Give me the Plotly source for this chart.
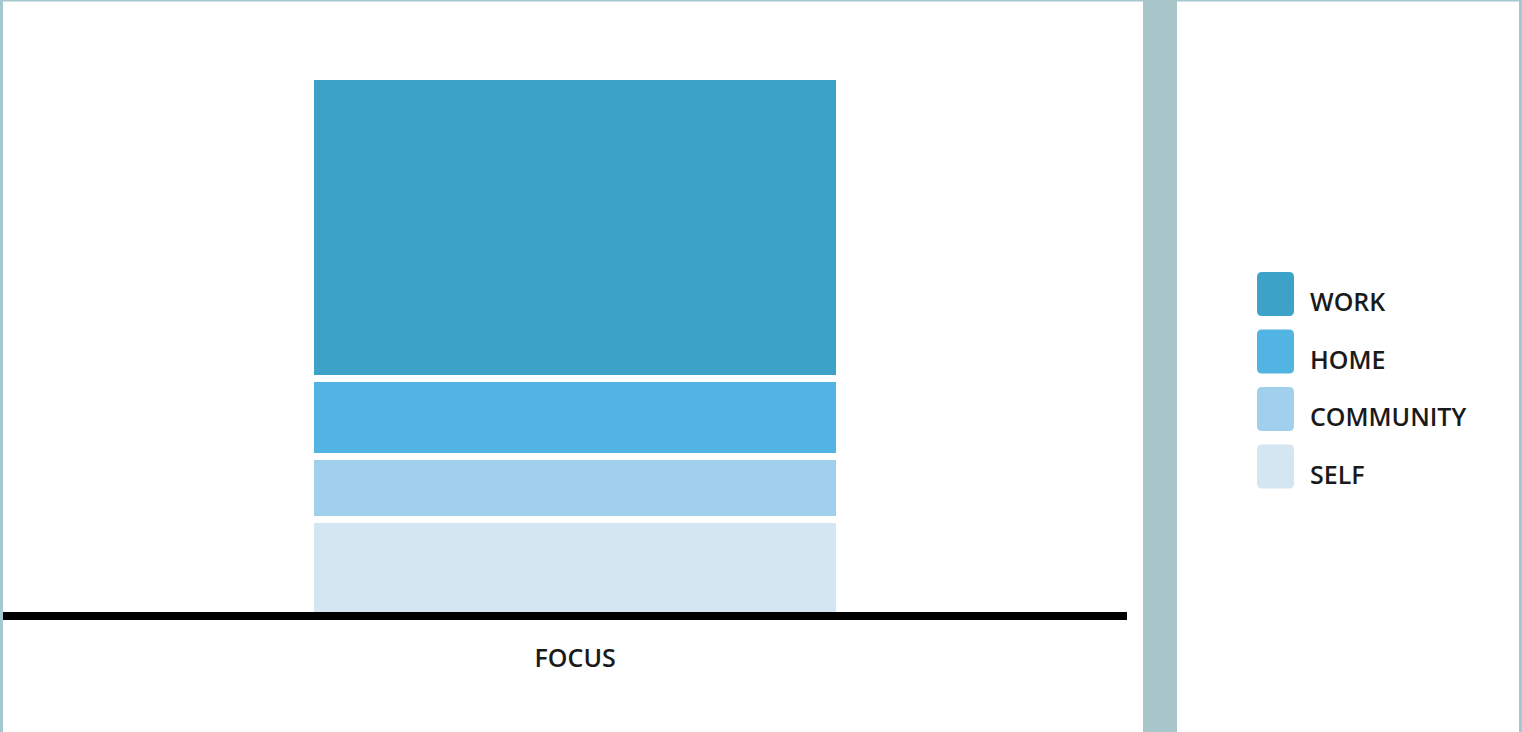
import plotly.graph_objects as go

categories = ["FOCUS"]
series_names = ["SELF", "COMMUNITY", "HOME", "WORK"]
series_values = [[17.9], [11.7], [14.4], [56.0]]
series_colors = ["#D3E6F2", "#A0D0EC", "#52B4E2", "#3CA2C8"]
legend_order = ["WORK", "HOME", "COMMUNITY", "SELF"]

W, H = 1522, 732
FONT = "Open Sans"

def px_x(p):
    return p / W

def px_y(p):
    return (H - p) / H

fig = go.Figure()
for name, vals, col in zip(series_names, series_values, series_colors):
    fig.add_trace(go.Bar(
        x=categories, y=vals, name=name,
        marker=dict(color=col, line=dict(color="white", width=7)),
        width=0.4706, showlegend=False, hoverinfo="skip",
    ))

fig.update_layout(
    width=W, height=H, barmode="stack",
    margin=dict(l=0, r=0, t=0, b=0),
    paper_bgcolor="white", plot_bgcolor="white",
    xaxis=dict(domain=[px_x(3), px_x(1127)], range=[-0.509, 0.491],
               showgrid=False, zeroline=False, showline=False,
               ticks="", ticklabelstandoff=25,
               tickfont=dict(family=FONT, size=25, color="#1a1a1a", weight=600)),
    yaxis=dict(domain=[px_y(616), px_y(76.5)], range=[0, 100],
               showgrid=False, zeroline=False, showline=False,
               showticklabels=False),
    showlegend=False,
)

shapes = []
# baseline
shapes.append(dict(type="line", xref="paper", yref="paper", x0=px_x(3), x1=px_x(1127),
                   y0=px_y(616), y1=px_y(616), line=dict(color="black", width=8), layer="above"))
border = "#A5C8CF"
shapes.append(dict(type="rect", xref="paper", yref="paper", x0=0, x1=px_x(3), y0=0, y1=1,
                   fillcolor=border, line=dict(width=0), layer="above"))
shapes.append(dict(type="rect", xref="paper", yref="paper", x0=px_x(1519), x1=1, y0=0, y1=1,
                   fillcolor=border, line=dict(width=0), layer="above"))
shapes.append(dict(type="rect", xref="paper", yref="paper", x0=0, x1=1, y0=px_y(1.5), y1=1,
                   fillcolor=border, line=dict(width=0), layer="above"))
# divider
shapes.append(dict(type="rect", xref="paper", yref="paper", x0=px_x(1143), x1=px_x(1177), y0=0, y1=1,
                   fillcolor="#A8C6CA", line=dict(width=0), layer="above"))

annotations = []
color_map = dict(zip(series_names, series_colors))
for i, name in enumerate(legend_order):
    top = 272 + i * 57.5
    bot = top + 44
    l, r = 1257, 1294
    rad = 5
    pts = [("M", l + rad, top), ("L", r - rad, top), ("Q", r, top, r, top + rad),
           ("L", r, bot - rad), ("Q", r, bot, r - rad, bot), ("L", l + rad, bot),
           ("Q", l, bot, l, bot - rad), ("L", l, top + rad), ("Q", l, top, l + rad, top)]
    out = []
    for seg in pts:
        cmd, nums = seg[0], seg[1:]
        xy = [f"{px_x(nums[k]):.6f},{px_y(nums[k+1]):.6f}" for k in range(0, len(nums), 2)]
        out.append(cmd + " " + " ".join(xy))
    out.append("Z")
    shapes.append(dict(type="path", xref="paper", yref="paper", path=" ".join(out),
                       fillcolor=color_map[name], line=dict(width=0)))
    annotations.append(dict(xref="paper", yref="paper", x=px_x(1308), y=px_y(top + 29),
                            text=name, showarrow=False, xanchor="left", yanchor="middle",
                            font=dict(family=FONT, size=25, color="#1a1a1a", weight=600)))

fig.update_layout(shapes=shapes, annotations=annotations)
fig.write_html("out.html", config={"displayModeBar": False},
               post_script="document.body.style.margin='0';document.body.style.overflow='hidden';")
